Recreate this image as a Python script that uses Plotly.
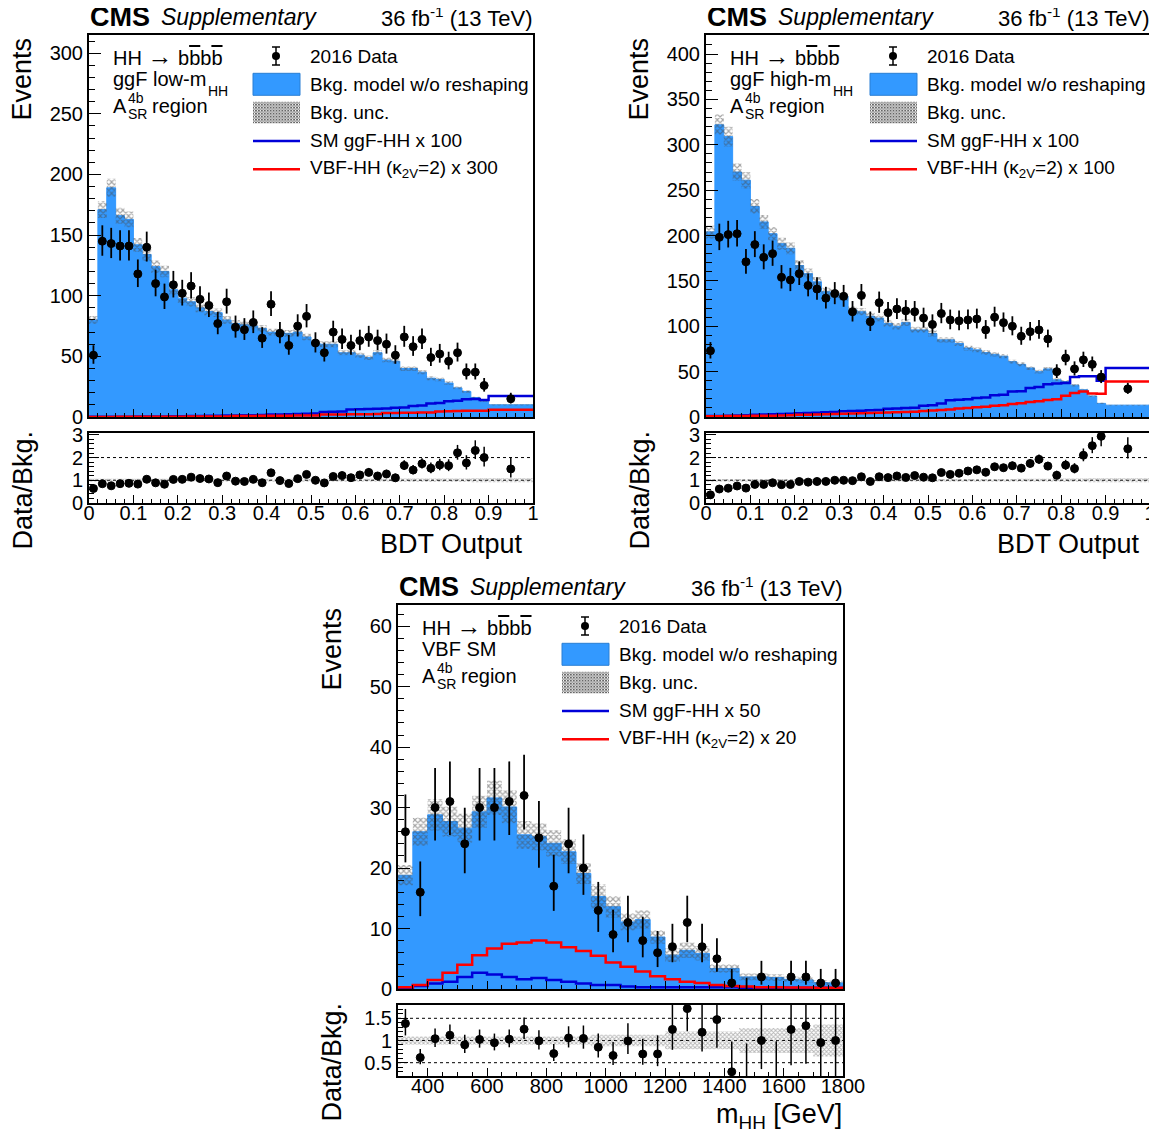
import math
import base64
import plotly.graph_objects as go

W, H = 1157, 1135
OFF = 8  # default page body margin of the browser
WF, HF = W - OFF, H - OFF
FONT = "Liberation Sans, Arial, Helvetica, sans-serif"

# ---------------- data ----------------
bdt_edges = [0.00, 0.02, 0.04, 0.06, 0.08, 0.10, 0.12, 0.14, 0.16, 0.18,
             0.20, 0.22, 0.24, 0.26, 0.28, 0.30, 0.32, 0.34, 0.36, 0.38,
             0.40, 0.42, 0.44, 0.46, 0.48, 0.50, 0.52, 0.54, 0.56, 0.58,
             0.60, 0.62, 0.64, 0.66, 0.68, 0.70, 0.72, 0.74, 0.76, 0.78,
             0.80, 0.82, 0.84, 0.86, 0.88, 0.90, 1.00]

# ggF low-mHH
low_bkg = [80, 171, 189, 166, 163, 142, 134, 124, 120, 105, 98, 95, 90, 87, 86, 80,
           77, 76, 75, 73, 70, 70, 69, 70, 66, 61, 60, 60, 53, 53, 51, 49, 53, 47,
           46, 40, 40, 37, 32, 31, 28, 24, 21, 16, 13, 10]
low_data = [51, 145, 143, 141, 141, 118, 140, 110, 99, 109, 102, 108, 97, 92, 77, 95,
            74, 72, 78, 65, 93, 69, 59, 75, 83, 61, 53, 70, 64, 59, 63, 66, 63, 60,
            51, 66, 58, 64, 49, 52, 46, 53, 37, 37, 26, 15]
low_ggf = [0.2, 0.2, 0.3, 0.3, 0.3, 0.4, 0.4, 0.5, 0.5, 0.6, 0.6, 0.8, 0.9, 1.0, 1.1, 1.2,
           1.3, 1.4, 1.5, 1.6, 2.0, 2.1, 2.3, 2.5, 2.7, 2.9, 4.2, 4.4, 4.6, 6.2, 6.4, 6.6,
           6.8, 7.0, 7.7, 7.9, 9.0, 9.4, 11.2, 11.6, 13.0, 13.4, 14.6, 14.8, 14.0, 17.4]
low_vbf = [0.1, 0.1, 0.1, 0.2, 0.2, 0.2, 0.2, 0.3, 0.3, 0.3, 0.3, 0.4, 0.4, 0.4, 0.5, 0.5,
           0.8, 0.9, 0.9, 1.0, 1.0, 1.1, 1.1, 1.2, 1.2, 1.3, 2.0, 2.1, 2.1, 2.2, 2.3, 2.3,
           2.4, 3.3, 3.4, 3.5, 3.6, 3.7, 3.8, 4.6, 4.8, 5.0, 5.1, 5.2, 5.2, 6.0]
low_unc = [0.04, 0.04, 0.04, 0.04, 0.04, 0.04, 0.04, 0.04, 0.04, 0.04, 0.04, 0.04, 0.04,
           0.04, 0.04, 0.04, 0.04, 0.04, 0.04, 0.04, 0.04, 0.04, 0.04, 0.04, 0.04, 0.04,
           0.04, 0.04, 0.04, 0.04, 0.04, 0.04, 0.04, 0.04, 0.04, 0.05, 0.05, 0.05, 0.05,
           0.05, 0.05, 0.05, 0.05, 0.05, 0.05, 0.05]
low_ratio_band = [0.07, 0.07, 0.07, 0.07, 0.07, 0.07, 0.07, 0.07, 0.07, 0.07, 0.07, 0.07,
                  0.07, 0.07, 0.07, 0.07, 0.07, 0.07, 0.07, 0.07, 0.07, 0.07, 0.07, 0.07,
                  0.07, 0.07, 0.07, 0.07, 0.07, 0.07, 0.07, 0.07, 0.07, 0.07, 0.07, 0.08,
                  0.08, 0.08, 0.08, 0.08, 0.08, 0.08, 0.08, 0.09, 0.09, 0.09]

# ggF high-mHH
high_bkg = [204, 322, 309, 270, 261, 232, 215, 202, 191, 186, 167, 158, 149, 138, 136, 133,
            118, 116, 111, 109, 103, 100, 104, 96, 96, 92, 85, 85, 81, 76, 74, 71, 69, 67,
            61, 58, 54, 50, 53, 41, 39, 35, 30, 23, 15, 13]
high_data = [73, 198, 201, 202, 171, 190, 176, 180, 154, 151, 158, 145, 141, 131, 136, 133,
             116, 134, 105, 126, 115, 119, 117, 116, 109, 102, 114, 107, 106, 107, 108, 96,
             110, 104, 100, 89, 94, 96, 86, 50, 65, 53, 63, 58, 44, 31]
high_ggf = [1.0, 1.2, 1.4, 1.6, 1.8, 2.4, 2.7, 3.0, 3.3, 3.6, 4.2, 4.5, 4.8, 5.2, 5.6, 6.2,
            6.6, 7.0, 7.4, 7.8, 9.0, 9.4, 9.8, 10.2, 12.5, 13.0, 15.0, 18.5, 19.0, 19.5,
            21.0, 21.5, 24.0, 24.5, 28.0, 28.5, 32.0, 33.0, 36.0, 37.0, 37.5, 44.0, 45.0,
            45.0, 40.0, 54.0]
high_vbf = [0.8, 0.9, 1.0, 1.1, 1.2, 1.3, 1.4, 1.5, 1.6, 1.8, 2.4, 2.6, 2.8, 3.0, 3.2, 3.6,
            3.8, 4.0, 4.3, 4.6, 5.0, 5.3, 5.6, 5.9, 6.6, 7.1, 7.8, 8.3, 9.4, 10.0, 10.8,
            11.3, 12.3, 12.9, 14.4, 15.2, 16.6, 17.4, 18.6, 19.6, 23.5, 26.5, 28.0, 26.0,
            25.5, 39.0]
high_unc = [0.035, 0.035, 0.035, 0.035, 0.035, 0.035, 0.035, 0.035, 0.035, 0.035, 0.035,
            0.035, 0.035, 0.035, 0.035, 0.035, 0.035, 0.035, 0.035, 0.035, 0.035, 0.035,
            0.035, 0.035, 0.035, 0.035, 0.035, 0.035, 0.035, 0.035, 0.035, 0.035, 0.035,
            0.035, 0.035, 0.04, 0.04, 0.04, 0.04, 0.04, 0.04, 0.04, 0.04, 0.04, 0.04, 0.04]
high_ratio_band = [0.06, 0.06, 0.06, 0.06, 0.06, 0.06, 0.06, 0.06, 0.06, 0.06, 0.06, 0.06,
                   0.06, 0.06, 0.06, 0.06, 0.06, 0.06, 0.06, 0.06, 0.06, 0.06, 0.06, 0.06,
                   0.06, 0.06, 0.06, 0.06, 0.06, 0.06, 0.06, 0.06, 0.06, 0.06, 0.06, 0.07,
                   0.07, 0.07, 0.07, 0.07, 0.08, 0.08, 0.08, 0.09, 0.09, 0.09]

# VBF SM, mHH
mhh_edges = [300, 350, 400, 450, 500, 550, 600, 650, 700, 750, 800, 850, 900, 950, 1000,
             1050, 1100, 1150, 1200, 1250, 1300, 1350, 1400, 1450, 1500, 1550, 1600, 1650,
             1700, 1750, 1800]
vbf_bkg = [18.8, 26.0, 28.8, 27.7, 26.6, 29.3, 31.6, 30.1, 25.5, 25.2, 24.1, 22.7, 19.1,
           15.3, 13.6, 11.1, 11.5, 8.6, 5.6, 6.4, 5.9, 3.4, 3.4, 2.0, 2.0, 1.9, 1.6, 1.5,
           1.05, 1.0]
vbf_data = [26, 16, 30, 31, 24, 30, 30, 31, 32, 25, 17, 24, 20, 13, 9, 11, 8, 6, 7, 11, 7,
            5, 1, 0, 2, 0, 2, 2, 1, 1]
vbf_ggf = [0.2, 0.5, 0.9, 1.2, 2.0, 2.7, 2.4, 2.0, 1.6, 1.8, 1.5, 1.2, 0.9, 0.66, 0.66, 0.4,
           0.3, 0.3, 0.3, 0.3, 0.3, 0.3, 0.3, 0.2, 0.2, 0.2, 0.2, 0.2, 0.2, 0.2]
vbf_vbf = [0.3, 0.66, 1.5, 2.7, 4.0, 5.6, 6.7, 7.5, 7.7, 8.0, 7.7, 6.9, 6.3, 5.5, 4.4, 3.7,
           2.9, 2.1, 1.6, 1.2, 1.0, 0.66, 0.5, 0.4, 0.3, 0.3, 0.25, 0.25, 0.2, 0.2]
vbf_unc = [0.09, 0.09, 0.09, 0.09, 0.09, 0.09, 0.09, 0.09, 0.09, 0.09, 0.09, 0.09, 0.09,
           0.13, 0.13, 0.13, 0.13, 0.13, 0.2, 0.2, 0.2, 0.2, 0.2, 0.28, 0.28, 0.28, 0.28,
           0.28, 0.36, 0.36]

# ---------------- helpers ----------------
def X(p):
    return (p - OFF) / WF


def Y(p):
    return 1 - (p - OFF) / HF


def gw_err(n):
    if n <= 0:
        return 0.0, 1.0 + math.sqrt(0.75)
    lo = n - n * (1 - 1 / (9 * n) - 1 / (3 * math.sqrt(n))) ** 3
    hi = 1 + math.sqrt(n + 0.75)
    return lo, hi


BLUE_FILL = "#3399ff"
SIG_BLUE = "#0000d8"
SIG_RED = "#ff0000"

hatch_svg = ("<svg xmlns='http://www.w3.org/2000/svg' width='48' height='22'>"
             "<defs><pattern id='p' width='3' height='3' patternUnits='userSpaceOnUse'>"
             "<rect width='3' height='3' fill='#ffffff'/>"
             "<path d='M0,0L3,3M3,0L0,3' stroke='#666666' stroke-width='1'/></pattern></defs>"
             "<rect width='48' height='22' fill='url(#p)'/></svg>")
HATCH_URI = "data:image/svg+xml;base64," + base64.b64encode(hatch_svg.encode()).decode()

fig = go.Figure()
annotations = []
shapes = []
images = []
layout_axes = {}


def ann(text, x, y, size, xanchor="left", yanchor="middle", angle=0, color="black"):
    annotations.append(dict(text=text, x=X(x), y=Y(y), xref="paper", yref="paper",
                            xanchor=xanchor, yanchor=yanchor, showarrow=False,
                            textangle=angle, borderpad=0,
                            font=dict(family=FONT, size=size, color=color)))


def step(edges, vals):
    return list(edges), list(vals) + [vals[-1]]


def axis(dom, rng, dtick, mdtick, tlen, mlen, labels, tick0=0, anchor=None, standoff=0):
    d = dict(domain=dom, range=rng, dtick=dtick, tick0=tick0, ticks="inside", ticklen=tlen,
             tickwidth=1, tickcolor="black", showline=True, linecolor="black", linewidth=2,
             mirror=True, showgrid=False, zeroline=False, showticklabels=labels,
             automargin=False, ticklabelstandoff=standoff, ticklabeloverflow="allow",
             tickfont=dict(family=FONT, size=20, color="black"),
             minor=dict(ticks="inside", ticklen=mlen, dtick=mdtick, tick0=tick0,
                        tickcolor="black", tickwidth=1, showgrid=False),
             anchor=anchor, fixedrange=True)
    return d


def panel(idx, L, R, T, B, RT, RB, edges, bkg, unc, rband, data, ggf, vbf,
          yrange, ydt, ymdt, xdt, xmdt, rrange, rdt, rmdt, rtick0, rlines,
          line2, line2_sub_x, ggf_lab, vbf_lab, xtitle, xtitle_right, xtitle_y):
    mi = 2 * idx + 1
    ri = 2 * idx + 2
    mx = "x" if mi == 1 else "x%d" % mi
    my = "y" if mi == 1 else "y%d" % mi
    rx = "x%d" % ri
    ry = "y%d" % ri
    xr = [edges[0], edges[-1]]
    layout_axes["xaxis" if mi == 1 else "xaxis%d" % mi] = axis(
        [X(L), X(R)], xr, xdt, xmdt, 8, 4, False, tick0=0, anchor=my)
    layout_axes["yaxis" if mi == 1 else "yaxis%d" % mi] = axis(
        [Y(B), Y(T)], yrange, ydt, ymdt, 12, 6, True, anchor=mx)
    layout_axes["xaxis%d" % ri] = axis([X(L), X(R)], xr, xdt, xmdt, 8, 4, True,
                                       tick0=0, anchor=ry, standoff=-9)
    layout_axes["yaxis%d" % ri] = axis([Y(RB), Y(RT)], rrange, rdt, rmdt, 10, 5, True,
                                       tick0=rtick0, anchor=rx)

    centers = [(edges[i] + edges[i + 1]) / 2 for i in range(len(bkg))]
    sx, sy = step(edges, bkg)
    # background fill
    fig.add_trace(go.Scatter(x=sx, y=sy, mode="lines", line=dict(shape="hv", color=BLUE_FILL, width=1),
                             fill="tozeroy", fillcolor=BLUE_FILL, xaxis=mx, yaxis=my,
                             showlegend=False, hoverinfo="skip"))
    lo = [b * (1 - u) for b, u in zip(bkg, unc)]
    hi = [b * (1 + u) for b, u in zip(bkg, unc)]
    _, slo = step(edges, lo)
    _, shi = step(edges, hi)
    fig.add_trace(go.Scatter(x=sx, y=slo, mode="lines", line=dict(shape="hv", width=0),
                             xaxis=mx, yaxis=my, showlegend=False, hoverinfo="skip"))
    fig.add_trace(go.Scatter(x=sx, y=shi, mode="lines", line=dict(shape="hv", width=0),
                             fill="tonexty", fillcolor="rgba(0,0,0,0)",
                             fillpattern=dict(shape="x", size=4, solidity=0.5, fgcolor="#4a4a4a",
                                              bgcolor="rgba(0,0,0,0)"),
                             xaxis=mx, yaxis=my, showlegend=False, hoverinfo="skip"))
    # signals
    for sig, col in ((ggf, SIG_BLUE), (vbf, SIG_RED)):
        _, ss = step(edges, sig)
        fig.add_trace(go.Scatter(x=sx, y=ss, mode="lines", line=dict(shape="hv", color=col, width=2.5),
                                 xaxis=mx, yaxis=my, showlegend=False, hoverinfo="skip"))
    # data
    elo, ehi = [], []
    for n in data:
        a, b = gw_err(n)
        elo.append(a)
        ehi.append(b)
    msize = [8 if n > 0 else 0 for n in data]
    mline = [1 if n > 0 else 0 for n in data]
    fig.add_trace(go.Scatter(x=centers, y=data, mode="markers",
                             marker=dict(color="black", size=msize, opacity=1,
                                         line=dict(width=mline, color="black")),
                             error_y=dict(type="data", array=ehi, arrayminus=elo, symmetric=False,
                                          color="black", thickness=1.8, width=0),
                             xaxis=mx, yaxis=my, showlegend=False))
    # ratio band
    rlo = [1 - u for u in rband]
    rhi = [1 + u for u in rband]
    _, srlo = step(edges, rlo)
    _, srhi = step(edges, rhi)
    fig.add_trace(go.Scatter(x=sx, y=srlo, mode="lines", line=dict(shape="hv", width=0),
                             xaxis=rx, yaxis=ry, showlegend=False, hoverinfo="skip"))
    fig.add_trace(go.Scatter(x=sx, y=srhi, mode="lines", line=dict(shape="hv", width=0),
                             fill="tonexty", fillcolor="rgba(0,0,0,0)",
                             fillpattern=dict(shape="x", size=3, solidity=0.5, fgcolor="#6a6a6a",
                                              bgcolor="rgba(0,0,0,0)"),
                             xaxis=rx, yaxis=ry, showlegend=False, hoverinfo="skip"))
    ratio = [n / b for n, b in zip(data, bkg)]
    rel_lo = [e / b for e, b in zip(elo, bkg)]
    rel_hi = [e / b for e, b in zip(ehi, bkg)]
    fig.add_trace(go.Scatter(x=centers, y=ratio, mode="markers",
                             marker=dict(color="black", size=msize, opacity=1,
                                         line=dict(width=mline, color="black")),
                             error_y=dict(type="data", array=rel_hi, arrayminus=rel_lo, symmetric=False,
                                          color="black", thickness=1.5, width=0),
                             xaxis=rx, yaxis=ry, showlegend=False))
    for v in rlines:
        shapes.append(dict(type="line", xref="%s domain" % rx, yref=ry, x0=0, x1=1, y0=v, y1=v,
                           line=dict(color="black", width=1, dash="dot"), layer="below"))

    # header
    ann("<b>CMS</b>", L, T - 18, 27)
    ann("<i>Supplementary</i>", L + 71, T - 18, 23)
    ann("36 fb<sup>-1</sup> (13 TeV)", R, T - 18, 22, xanchor="right")
    # axis titles
    ann("Events", L - 67, T + 2, 27, xanchor="center", yanchor="top", angle=-90)
    ann("Data/Bkg.", L - 67, RT - 3, 27, xanchor="center", yanchor="top", angle=-90)
    ann(xtitle, xtitle_right, xtitle_y, 27, xanchor="right", yanchor="bottom")
    # text block
    ob = '<span style="text-decoration:overline">b</span>'
    ann('HH <span style="font-size:25px">\u2192</span> b' + ob + "b" + ob, L + 23, T + 21, 20)
    ann(line2, L + 23, T + 44, 20)
    if line2_sub_x is not None:
        ann("HH", L + line2_sub_x, T + 56, 14)
    ann("A", L + 23, T + 71, 20)
    ann("4b", L + 38, T + 63, 14)
    ann("SR", L + 38, T + 79, 14)
    ann("region", L + 62, T + 71, 20)
    # legend
    rows = [T + 21 + 28.3 * i for i in range(5)]
    sx0, sx1 = L + 164, L + 211
    mxc = L + 187
    labels = ["2016 Data", "Bkg. model w/o reshaping", "Bkg. unc.", ggf_lab, vbf_lab]
    for yy, lab in zip(rows, labels):
        ann(lab, L + 220, yy, 19)
    y0 = rows[0]
    shapes.append(dict(type="line", xref="paper", yref="paper", x0=X(mxc), x1=X(mxc),
                       y0=Y(y0 - 9), y1=Y(y0 + 9), line=dict(color="black", width=1.5)))
    for cy in (y0 - 9, y0 + 9):
        shapes.append(dict(type="line", xref="paper", yref="paper", x0=X(mxc - 4), x1=X(mxc + 4),
                           y0=Y(cy), y1=Y(cy), line=dict(color="black", width=1.5)))
    shapes.append(dict(type="circle", xref="paper", yref="paper", x0=X(mxc - 4), x1=X(mxc + 4),
                       y0=Y(y0 - 4), y1=Y(y0 + 4), fillcolor="black", line=dict(color="black", width=0)))
    shapes.append(dict(type="rect", xref="paper", yref="paper", x0=X(sx0), x1=X(sx1),
                       y0=Y(rows[1] - 11), y1=Y(rows[1] + 11), fillcolor=BLUE_FILL,
                       line=dict(color="#2a7fd4", width=1)))
    images.append(dict(source=HATCH_URI, xref="paper", yref="paper", x=X(sx0), y=Y(rows[2] - 11),
                       sizex=(sx1 - sx0) / WF, sizey=22 / HF, sizing="stretch",
                       xanchor="left", yanchor="top", layer="above"))
    for yy, col in ((rows[3], SIG_BLUE), (rows[4], SIG_RED)):
        shapes.append(dict(type="line", xref="paper", yref="paper", x0=X(sx0), x1=X(sx1),
                           y0=Y(yy), y1=Y(yy), line=dict(color=col, width=2.5)))


panel(0, 89, 533, 35, 417, 433, 503, bdt_edges, low_bkg, low_unc, low_ratio_band, low_data,
      low_ggf, low_vbf, [0, 315], 50, 10, 0.1, 0.02, [0, 3.08], 1, 0.2, 0, [1, 2],
      "ggF low-m", 118, "SM ggF-HH x 100", "VBF-HH (\u03ba<sub>2V</sub>=2) x 300",
      "BDT Output", 524, 560)
panel(1, 706, 1150, 35, 417, 433, 503, bdt_edges, high_bkg, high_unc, high_ratio_band, high_data,
      high_ggf, high_vbf, [0, 421], 50, 10, 0.1, 0.02, [0, 3.08], 1, 0.2, 0, [1, 2],
      "ggF high-m", 126, "SM ggF-HH x 100", "VBF-HH (\u03ba<sub>2V</sub>=2) x 100",
      "BDT Output", 1141, 560)
panel(2, 398, 843, 605, 989, 1005, 1076, mhh_edges, vbf_bkg, vbf_unc, vbf_unc, vbf_data,
      vbf_ggf, vbf_vbf, [0, 63.5], 10, 2, 200, 50, [0.2, 1.8], 0.5, 0.1, 0, [0.5, 1, 1.5],
      "VBF SM", None, "SM ggF-HH x 50", "VBF-HH (\u03ba<sub>2V</sub>=2) x 20",
      "m<sub>HH</sub> [GeV]", 843, 1134)

fig.update_layout(width=WF, height=HF, margin=dict(l=0, r=0, t=0, b=0, pad=0, autoexpand=False),
                  paper_bgcolor="white", plot_bgcolor="white",
                  annotations=annotations, shapes=shapes, images=images,
                  showlegend=False, font=dict(family=FONT, color="black"),
                  **layout_axes)
fig.write_html("out.html", config={"displayModeBar": False})
